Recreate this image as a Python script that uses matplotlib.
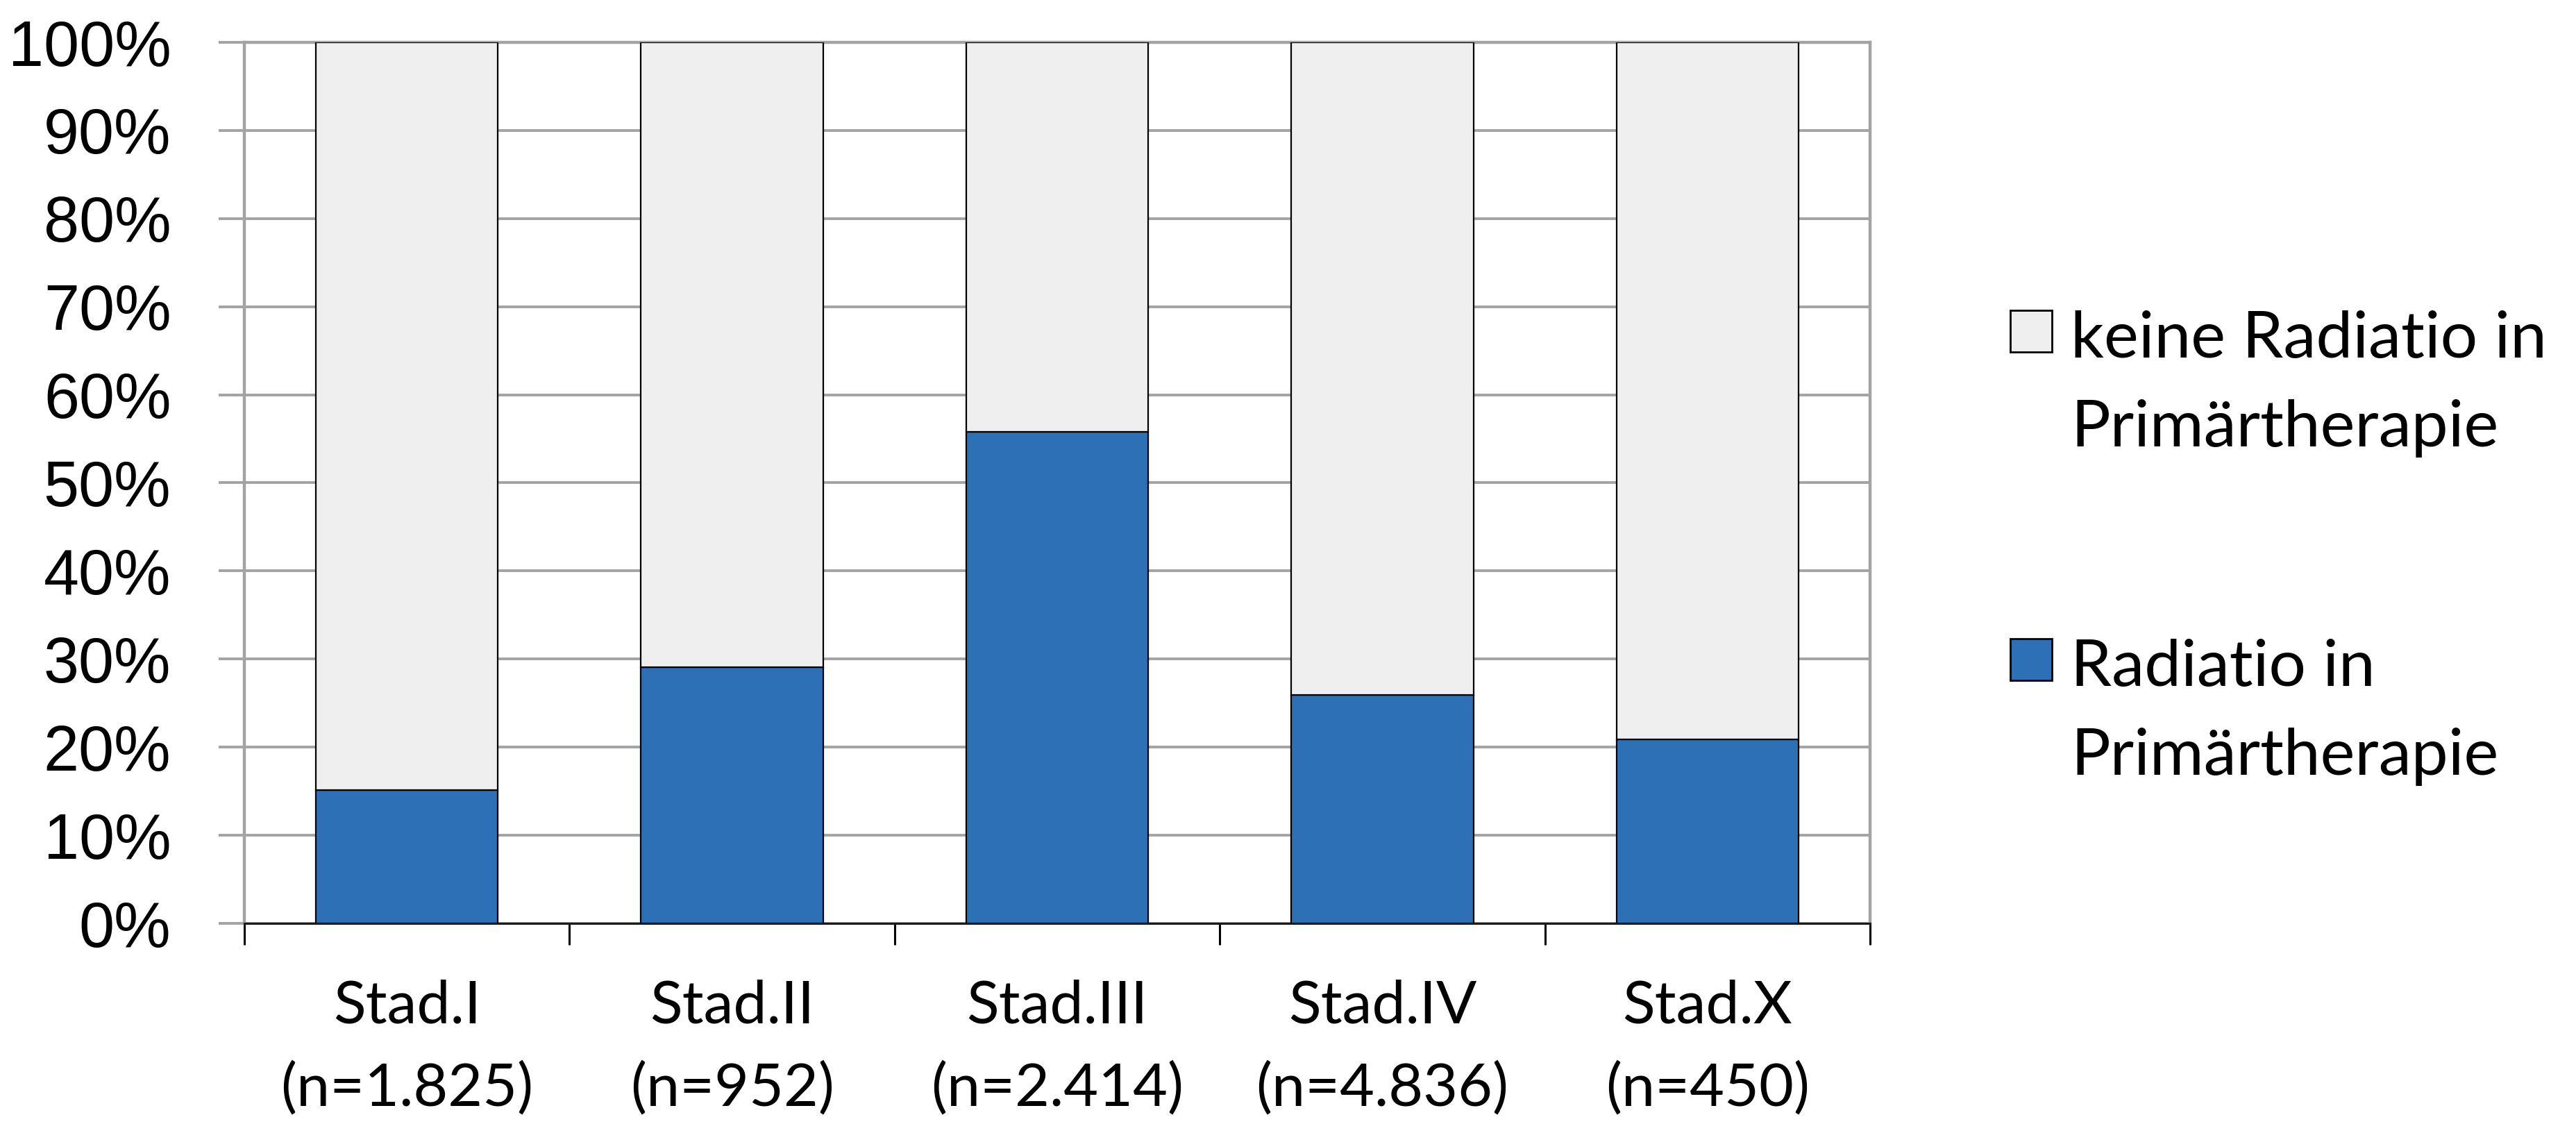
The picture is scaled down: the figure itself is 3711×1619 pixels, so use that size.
import matplotlib
matplotlib.use("Agg")
import matplotlib.pyplot as plt
from matplotlib.patches import Rectangle
from matplotlib import font_manager
import numpy as np

categories = ["Stad.I\n(n=1.825)", "Stad.II\n(n=952)", "Stad.III\n(n=2.414)",
              "Stad.IV\n(n=4.836)", "Stad.X\n(n=450)"]
radiatio = [15.1, 29.1, 55.8, 25.9, 20.9]
keine = [100 - v for v in radiatio]
series_labels = [["keine Radiatio in", "Primärtherapie"], ["Radiatio in", "Primärtherapie"]]
yticks = list(range(0, 101, 10))
ytick_labels = [f"{t}%" for t in yticks]

BLUE = "#2E70B6"
LIGHT = "#EFEFEF"
GRID = "#A3A3A3"

names = {f.name for f in font_manager.fontManager.ttflist}
YFONT = "Liberation Sans Narrow" if "Liberation Sans Narrow" in names else "Liberation Sans"
YSIZE = 78 if YFONT == "Liberation Sans Narrow" else 66

W, H = 3712, 1619
DPI = 100
fig = plt.figure(figsize=(W / DPI, H / DPI), dpi=DPI)
ax = fig.add_axes([352 / W, 1 - 1330 / H, (2694 - 352) / W, (1330 - 61) / H])

x = np.arange(len(categories))
bw = 0.56
ax.bar(x, radiatio, width=bw, color=BLUE, edgecolor="black", linewidth=1.6, zorder=3)
ax.bar(x, keine, bottom=radiatio, width=bw, color=LIGHT, edgecolor="black", linewidth=1.6, zorder=3)

ax.set_xlim(-0.5, len(categories) - 0.5)
ax.set_ylim(0, 100)
ax.set_yticks(yticks)
ax.set_yticklabels(ytick_labels, fontfamily=YFONT, fontsize=YSIZE)
ax.yaxis.grid(True, color=GRID, linewidth=2.8, zorder=0)
ax.tick_params(axis="y", length=27, width=2.8, color=GRID, pad=49)

# x ticks at category boundaries
ax.set_xticks(np.arange(-0.5, len(categories), 1.0))
ax.set_xticklabels([])
ax.set_xticks(x, minor=True)
ax.set_xticklabels(categories, minor=True, fontfamily="Lato", fontsize=62, linespacing=1.62)
ax.tick_params(axis="x", which="major", length=22, width=2.2, color="black", direction="out")
ax.tick_params(axis="x", which="minor", length=0, pad=58)

for side in ["left", "top", "right"]:
    ax.spines[side].set_color(GRID)
    ax.spines[side].set_linewidth(3.2)
ax.spines["bottom"].set_color("#1a1a1a")
ax.spines["bottom"].set_linewidth(2.2)
ax.spines["bottom"].set_zorder(4)

# legend (manual layout)
colors = [LIGHT, BLUE]
sq_tops = [447, 920]
baselines = [515, 988]
for lines, col, st, bl in zip(series_labels, colors, sq_tops, baselines):
    fig.patches.append(Rectangle((2896 / W, 1 - (st + 60) / H), 60 / W, 60 / H,
                                 transform=fig.transFigure, facecolor=col,
                                 edgecolor="black", linewidth=2.0))
    for i, line in enumerate(lines):
        fig.text(2983 / W, 1 - (bl + i * 128) / H, line, fontfamily="Lato", fontsize=68,
                 va="baseline", ha="left")

fig.savefig("out.png", dpi=DPI, facecolor="white")
